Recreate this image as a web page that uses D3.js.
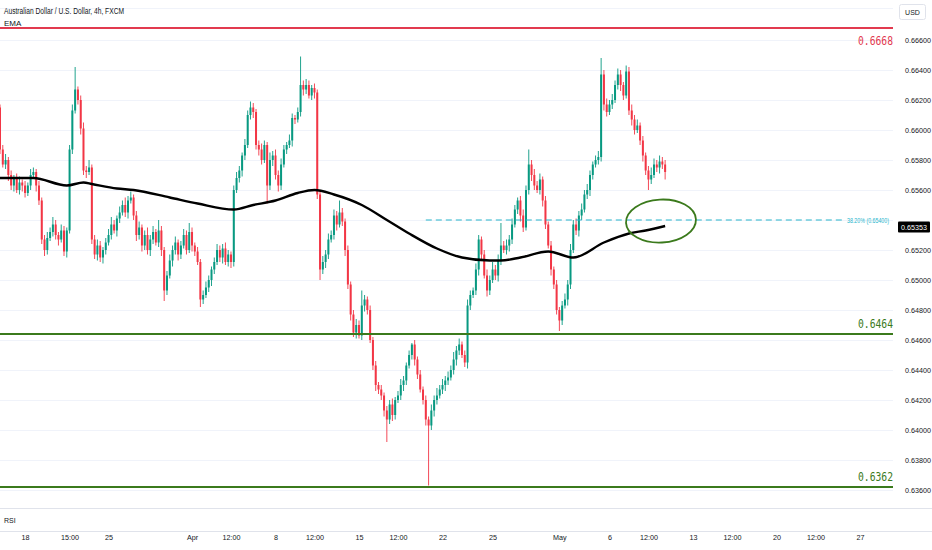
<!DOCTYPE html>
<html><head><meta charset="utf-8">
<script src="https://cdn.jsdelivr.net/npm/d3@7/dist/d3.min.js"></script>
<style>html,body{margin:0;padding:0;background:#fff;}svg{display:block;}</style>
</head><body>
<svg id="c" width="932" height="550"></svg>
<script>
// ---------- DATA ----------
const firstOpen = 0.6615;
const closes = [
0.6587,0.6577,0.6580,0.6570,0.6563,0.6568,0.6560,0.6565,0.6563,0.6558,0.6563,0.6570,0.6572,0.6563,0.6553,0.6527,0.6520,0.6528,0.6532,0.6537,
0.6530,0.6527,0.6533,0.6519,0.6533,0.6587,0.6613,0.6627,0.6620,0.6601,0.6573,0.6572,0.6575,0.6527,0.6517,0.6523,0.6515,0.6520,0.6525,0.6530,
0.6537,0.6533,0.6541,0.6545,0.6550,0.6545,0.6553,0.6555,0.6543,0.6530,0.6535,0.6523,0.6530,0.6520,0.6527,0.6532,0.6525,0.6533,0.6520,0.6493,
0.6503,0.6513,0.6520,0.6525,0.6517,0.6523,0.6530,0.6520,0.6532,0.6523,0.6519,0.6512,0.6487,0.6490,0.6495,0.6500,0.6507,0.6512,0.6520,0.6515,
0.6521,0.6512,0.6517,0.6512,0.6560,0.6568,0.6573,0.6583,0.6590,0.6610,0.6615,0.6612,0.6590,0.6587,0.6580,0.6590,0.6563,0.6580,0.6583,0.6570,
0.6563,0.6577,0.6587,0.6590,0.6593,0.6608,0.6607,0.6612,0.6630,0.6627,0.6630,0.6623,0.6628,0.6625,0.6557,0.6507,0.6512,0.6517,0.6527,0.6530,
0.6543,0.6537,0.6545,0.6539,0.6520,0.6497,0.6477,0.6465,0.6470,0.6463,0.6483,0.6487,0.6480,0.6460,0.6443,0.6430,0.6427,0.6423,0.6413,0.6407,
0.6417,0.6410,0.6420,0.6423,0.6430,0.6433,0.6443,0.6450,0.6457,0.6447,0.6437,0.6427,0.6420,0.6407,0.6403,0.6413,0.6420,0.6423,0.6427,0.6430,
0.6433,0.6435,0.6440,0.6447,0.6453,0.6457,0.6450,0.6445,0.6483,0.6490,0.6493,0.6507,0.6527,0.6517,0.6503,0.6493,0.6500,0.6507,0.6503,0.6513,
0.6523,0.6520,0.6523,0.6527,0.6537,0.6547,0.6553,0.6543,0.6535,0.6560,0.6577,0.6570,0.6563,0.6560,0.6567,0.6553,0.6537,0.6523,0.6507,0.6497,
0.6480,0.6473,0.6483,0.6487,0.6497,0.6520,0.6537,0.6533,0.6543,0.6547,0.6557,0.6560,0.6570,0.6577,0.6580,0.6582,0.6637,0.6617,0.6612,0.6617,
0.6620,0.6630,0.6637,0.6630,0.6623,0.6639,0.6613,0.6607,0.6600,0.6603,0.6593,0.6583,0.6573,0.6567,0.6570,0.6577,0.6575,0.6579,0.6577,0.6572
];
// upper / lower wick length in pips (0.0001)
const wickUp = [
2,3,4,2,3,2,3,4,2,3,2,4,3,2,3,2,3,4,3,5,
3,2,4,3,2,3,4,15,2,3,4,3,5,2,3,4,3,2,3,4,
5,3,2,4,3,5,3,4,2,3,4,2,3,5,3,4,2,7,3,2,
3,4,3,4,2,3,4,3,6,3,2,3,2,3,4,3,2,3,4,3,
3,4,3,2,3,4,3,2,4,3,4,3,2,3,4,3,2,5,3,4,
3,4,3,2,4,3,2,3,19,3,4,3,2,3,2,3,4,3,4,3,
4,3,8,3,2,3,2,3,4,3,10,3,2,3,2,3,2,3,2,3,
3,4,2,3,4,3,2,3,1,3,2,3,2,3,2,4,3,5,3,4,
3,4,3,5,3,4,2,3,4,3,2,4,3,2,3,4,3,5,3,4,
15,3,4,3,4,3,2,3,4,3,10,3,4,3,4,2,3,2,3,2,
3,2,3,4,3,4,3,4,3,4,3,4,3,2,3,4,11,3,4,3,
4,3,4,3,2,4,3,4,3,4,2,3,2,3,5,4,3,4,3,3
];
const wickDn = [
3,2,3,4,3,4,2,3,4,3,2,3,2,4,3,3,4,3,2,3,
3,4,2,3,4,2,3,2,3,4,3,4,2,3,3,4,3,4,3,2,
3,2,4,3,2,3,4,2,3,4,3,4,3,3,4,3,2,3,4,7,
3,2,4,3,4,3,2,3,2,4,3,2,5,3,2,3,4,3,2,3,
4,2,3,4,3,2,3,4,3,2,3,4,3,4,3,2,12,3,4,3,
4,3,2,3,2,4,3,2,3,4,3,2,3,4,3,7,3,4,3,2,
3,4,2,3,4,3,4,3,4,2,3,4,3,2,3,4,3,3,4,15,
3,4,3,2,3,4,3,2,3,4,3,2,3,4,40,3,4,3,2,3,
4,3,2,3,4,3,2,3,4,3,2,3,4,3,2,4,3,2,3,4,
3,2,3,4,3,2,3,4,3,2,3,4,3,2,3,4,3,2,4,3,
3,7,3,2,4,3,2,3,4,3,2,3,4,3,2,3,3,4,3,2,
3,2,3,4,3,2,3,4,3,2,3,4,3,7,3,2,3,4,3,5
];
// EMA read at sample bars
const emaIdx = [0,12,24,30,33,42,48,61,71,84,91,99,107,113,120,130,139,147,157,166,176,180,187,197,206,217,226,232,239];
const emaVal = [0.6568,0.6568,0.6563,0.6565,0.6564,0.6561,0.6560,0.6555,0.6551,0.6547,0.6550,0.6553,0.6558,0.6560,0.6557,0.6550,0.6540,0.6531,0.6521,0.6515,0.6513,0.6513,0.6515,0.6519,0.6515,0.6525,0.6531,0.6533,0.6536];
const emaLast = 0.65353;
const priceTicks = [0.666,0.664,0.662,0.660,0.658,0.656,0.654,0.652,0.650,0.648,0.646,0.644,0.642,0.640,0.638,0.636];
const timeTickIdx = [9,25,39,69,83,99,113,129,143,159,177,201,219,233,249,263,279,293,309];
const timeTickLabels = ["18","15:00","25","Apr","12:00","8","12:00","15","12:00","22","25","May","6","12:00","13","12:00","20","12:00","27"];
const levelPrices = [0.6668,0.6464,0.6362];
const levelLabels = ["0.6668","0.6464","0.6362"];
const fibPrice = 0.654, fibStartIdx = 153, fibText = "38.20% (0.65400)";
const title = "Australian Dollar / U.S. Dollar, 4h, FXCM";

// ---------- LAYOUT ----------
const W = 932, H = 550, plotR = 893;
const svg = d3.select("#c");
const x = d3.scaleLinear().domain([0, 320]).range([0, 320 * 2.783]);
const y = d3.scaleLinear().domain([0.636, 0.666]).range([490, 40]);
const UP = "#089981", DN = "#f23645";
const RED = "#e23a4f", GRN = "#3b7a1c", CYAN = "#26b5cc";

svg.append("rect").attr("width", W).attr("height", H).attr("fill", "#fff");

// clip for the axis label hidden behind the EMA price box
svg.append("defs").append("clipPath").attr("id", "aboveBox")
  .append("rect").attr("x", 895).attr("y", 0).attr("width", 40).attr("height", y(emaLast) - 5.5);

// grid
svg.append("g").selectAll("line").data(priceTicks).join("line")
  .attr("x1", 0).attr("x2", plotR).attr("y1", d => Math.round(y(d)) + 0.5).attr("y2", d => Math.round(y(d)) + 0.5)
  .attr("stroke", "#f0f3fa").attr("stroke-width", 1);
svg.append("line").attr("x1", 0).attr("x2", plotR).attr("y1", 8.5).attr("y2", 8.5).attr("stroke", "#f0f3fa");

// pane separators
[508.5, 531.5].forEach(v => svg.append("line").attr("x1", 0).attr("x2", W).attr("y1", v).attr("y2", v)
  .attr("stroke", "#e0e3eb").attr("stroke-width", 1));

// candles
const bars = closes.map((c, i) => {
  const o = i === 0 ? firstOpen : closes[i - 1];
  return { i, o, c, h: Math.max(o, c) + wickUp[i] * 1e-4, l: Math.min(o, c) - wickDn[i] * 1e-4 };
});
const g = svg.append("g");
g.selectAll("line.w").data(bars).join("line").attr("class", "w")
  .attr("x1", d => x(d.i)).attr("x2", d => x(d.i))
  .attr("y1", d => y(d.h)).attr("y2", d => y(d.l))
  .attr("stroke", d => d.c >= d.o ? UP : DN).attr("stroke-width", 0.9);
g.selectAll("rect.b").data(bars).join("rect").attr("class", "b")
  .attr("x", d => x(d.i) - 1).attr("width", 2)
  .attr("y", d => y(Math.max(d.o, d.c)))
  .attr("height", d => Math.max(1, Math.abs(y(d.o) - y(d.c))))
  .attr("fill", d => d.c >= d.o ? UP : DN);

// EMA
const emaPts = emaIdx.map((d, k) => [d, emaVal[k]]);
svg.append("path").datum(emaPts)
  .attr("d", d3.line().x(d => x(d[0])).y(d => y(d[1])).curve(d3.curveMonotoneX))
  .attr("fill", "none").attr("stroke", "#000").attr("stroke-width", 2.4);

// fib line
svg.append("line").attr("x1", x(fibStartIdx)).attr("x2", 844)
  .attr("y1", y(fibPrice)).attr("y2", y(fibPrice))
  .attr("stroke", CYAN).attr("stroke-width", 1.2).attr("stroke-dasharray", "6,4");
svg.append("text").attr("x", 847).attr("y", y(fibPrice) + 2.8).text(fibText)
  .attr("font-family", "Liberation Sans, Arial, sans-serif").attr("font-size", 7.6)
  .attr("textLength", 42).attr("lengthAdjust", "spacingAndGlyphs").attr("fill", CYAN);

// horizontal levels
const lv = svg.append("g");
levelPrices.forEach((p, k) => {
  const col = k === 0 ? RED : GRN;
  lv.append("line").attr("x1", 0).attr("x2", plotR).attr("y1", y(p)).attr("y2", y(p))
    .attr("stroke", col).attr("stroke-width", 2);
  lv.append("text").attr("x", 893).attr("y", k === 0 ? y(p) + 17 : y(p) - 6)
    .attr("text-anchor", "end").text(levelLabels[k])
    .attr("font-family", "DejaVu Sans Mono, monospace").attr("font-size", 13)
    .attr("textLength", 35).attr("lengthAdjust", "spacingAndGlyphs").attr("fill", col);
});

// annotation ellipse
svg.append("ellipse").attr("cx", x(237.5)).attr("cy", y(0.65393)).attr("rx", 35).attr("ry", 21.5)
  .attr("transform", `rotate(-3 ${x(237.5)} ${y(0.65393)})`)
  .attr("fill", "none").attr("stroke", GRN).attr("stroke-width", 1.8);

// right axis
const ya = d3.axisRight(y).tickValues(priceTicks).tickFormat(d3.format(".5f")).tickSize(0).tickPadding(0);
const yg = svg.append("g").attr("transform", `translate(905,0)`).call(ya);
yg.select(".domain").remove();
yg.selectAll("text").attr("font-family", "Liberation Sans, Arial, sans-serif").attr("font-size", 7.2).attr("fill", "#131722");
yg.selectAll(".tick").filter(d => Math.abs(d - fibPrice) < 1e-9).attr("clip-path", "url(#aboveBox)");

// EMA price box
svg.append("rect").attr("x", 898).attr("y", y(emaLast) - 5.5).attr("width", 32).attr("height", 11).attr("fill", "#000").attr("rx", 1);
svg.append("text").attr("x", 914).attr("y", y(emaLast) + 2.6).attr("text-anchor", "middle").text(emaLast.toFixed(5))
  .attr("font-family", "Liberation Sans, Arial, sans-serif").attr("font-size", 7.2).attr("fill", "#fff");

// USD box
svg.append("rect").attr("x", 899.5).attr("y", 4.5).attr("width", 26).attr("height", 15).attr("rx", 2)
  .attr("fill", "#fff").attr("stroke", "#e0e3eb");
svg.append("text").attr("x", 912.5).attr("y", 14.5).attr("text-anchor", "middle").text("USD")
  .attr("font-family", "Liberation Sans, Arial, sans-serif").attr("font-size", 7).attr("fill", "#131722");

// bottom time axis
const xa = d3.axisBottom(x).tickValues(timeTickIdx).tickFormat((d, k) => timeTickLabels[k]).tickSize(0).tickPadding(0);
const xg = svg.append("g").attr("transform", `translate(0,535)`).call(xa);
xg.select(".domain").remove();
xg.selectAll("text").attr("font-family", "Liberation Sans, Arial, sans-serif").attr("font-size", 7.2).attr("fill", "#131722");

// header texts
svg.append("text").attr("x", 4).attr("y", 14).text(title)
  .attr("font-family", "Liberation Sans, Arial, sans-serif").attr("font-size", 8.5)
  .attr("textLength", 120).attr("lengthAdjust", "spacingAndGlyphs").attr("fill", "#131722");
svg.append("text").attr("x", 4).attr("y", 25.5).text("EMA")
  .attr("font-family", "Liberation Sans, Arial, sans-serif").attr("font-size", 8).attr("fill", "#131722");
svg.append("text").attr("x", 4).attr("y", 523).text("RSI")
  .attr("font-family", "Liberation Sans, Arial, sans-serif").attr("font-size", 7).attr("fill", "#131722");
</script>
</body></html>
